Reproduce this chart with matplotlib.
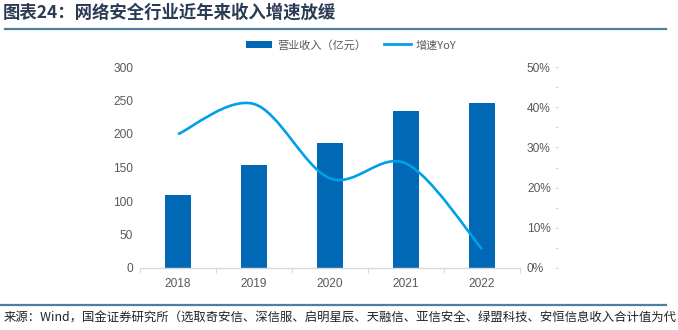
import matplotlib
matplotlib.use("Agg")
import matplotlib.pyplot as plt
from matplotlib.path import Path
from matplotlib.patches import PathPatch, Patch
from matplotlib.lines import Line2D
import numpy as np

plt.rcParams['font.family'] = ['Liberation Sans', 'Noto Sans CJK SC', 'DejaVu Sans']

years = ["2018", "2019", "2020", "2021", "2022"]
revenue = [109, 153, 187, 234, 246]          # 营业收入（亿元）
yoy = [0.333, 0.408, 0.223, 0.260, 0.047]    # 增速YoY
left_ticks = [0, 50, 100, 150, 200, 250, 300]
right_ticks = [0, 0.1, 0.2, 0.3, 0.4, 0.5]
right_labels = ["0%", "10%", "20%", "30%", "40%", "50%"]

title = "图表24：网络安全行业近年来收入增速放缓"
source = "来源：Wind，国金证券研究所（选取奇安信、深信服、启明星辰、天融信、亚信安全、绿盟科技、安恒信息收入合计值为代"

W, H = 678, 330
fig = plt.figure(figsize=(W / 100, H / 100), dpi=100)

bar_color = "#0068B5"
line_color = "#00A0E9"
tick_color = "#595959"
axis_color = "#D9D9D9"
cjk = ['Noto Sans CJK SC', 'DejaVu Sans']

x0, x1, ytop, ybot = 140, 520, 67, 268
ax = fig.add_axes([x0 / W, (H - ybot) / H, (x1 - x0) / W, (ybot - ytop) / H])
x = np.arange(len(years))
ax.bar(x, revenue, width=0.33, color=bar_color, zorder=2)
ax.set_xlim(-0.5, len(years) - 0.5)
ax.set_ylim(0, 300)
ax.set_yticks(left_ticks)
ax.set_xticks(x)
ax.set_xticklabels(years)
ax.set_xticks(np.arange(-0.5, len(years)), minor=True)
ax.tick_params(axis='x', which='major', length=0, pad=7, labelsize=8.6, labelcolor=tick_color)
ax.tick_params(axis='x', which='minor', length=3.5, color=axis_color, width=0.8)
ax.tick_params(axis='y', length=0, pad=5, labelsize=8.6, labelcolor=tick_color)
for s in ['top', 'right', 'left']:
    ax.spines[s].set_visible(False)
ax.spines['bottom'].set_color(axis_color)
ax.spines['bottom'].set_linewidth(1.0)

ax2 = ax.twinx()
ax2.set_ylim(0, 0.5)
ax2.set_yticks(right_ticks)
ax2.set_yticklabels(right_labels)
ax2.tick_params(axis='y', length=0, pad=5, labelsize=8.6, labelcolor=tick_color)
for s in ax2.spines.values():
    s.set_visible(False)

# smoothed line (Excel-style Bezier through the points)
pts = np.column_stack([x, yoy]).astype(float)
n = len(pts)
verts = [tuple(pts[0])]
codes = [Path.MOVETO]
for i in range(n - 1):
    p0 = pts[i - 1] if i > 0 else pts[i]
    p1 = pts[i]
    p2 = pts[i + 1]
    p3 = pts[i + 2] if i + 2 < n else pts[i + 1]
    c1 = p1 + (p2 - p0) / 6.0
    c2 = p2 - (p3 - p1) / 6.0
    verts += [tuple(c1), tuple(c2), tuple(p2)]
    codes += [Path.CURVE4] * 3
ax2.add_patch(PathPatch(Path(verts, codes), facecolor='none', edgecolor=line_color,
                        lw=1.9, capstyle='butt', zorder=3))

# faint tick marks at the far right
ax3 = fig.add_axes([558 / W, (H - ybot) / H, 0.0001, (ybot - ytop) / H])
ax3.set_ylim(0, 0.5)
ax3.set_yticks(np.arange(0, 0.501, 0.05))
ax3.set_yticklabels([])
ax3.set_xticks([])
ax3.tick_params(axis='y', length=2.5, color=axis_color, width=0.8, direction='out')
ax3.patch.set_visible(False)
for s in ax3.spines.values():
    s.set_visible(False)

# legend
handles = [Patch(facecolor=bar_color, edgecolor='none'),
           Line2D([0], [0], color=line_color, lw=2.0)]
labels = ["营业收入（亿元）", "增速YoY"]
leg = fig.legend(handles, labels, loc='center', bbox_to_anchor=(351 / W, 1 - 45 / H),
                 ncol=2, frameon=False, handlelength=2.4, handleheight=0.7,
                 handletextpad=0.45, columnspacing=1.6, borderpad=0,
                 prop={'family': cjk, 'size': 8})
for t in leg.get_texts():
    t.set_color(tick_color)

# title and lines
fig.text(3 / W, 1 - 13 / H, title, fontsize=12.5, fontweight='bold', color='#2B3A55',
         ha='left', va='center', family=cjk, style='italic')
fig.add_artist(Line2D([5 / W, 666 / W], [1 - 28.5 / H] * 2, color='#4F7F9E', lw=1.6))
fig.add_artist(Line2D([0 / W, 666 / W], [1 - 305 / H] * 2, color='#4F7F9E', lw=1.6))
fig.text(4 / W, 1 - 318 / H, source, fontsize=8.9, color='#222222',
         ha='left', va='center', family=cjk)

fig.savefig("out.png", dpi=100)
